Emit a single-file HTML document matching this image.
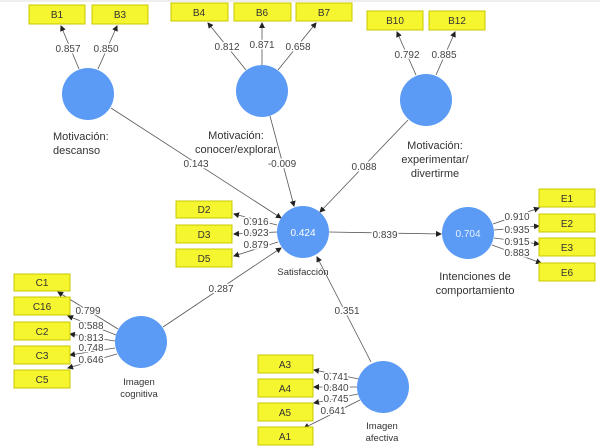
<!DOCTYPE html>
<html><head><meta charset="utf-8"><style>
html,body{margin:0;padding:0;background:#fff;width:600px;height:448px;overflow:hidden}
svg{display:block;font-family:"Liberation Sans",sans-serif}
.b{fill:#f5f530;stroke:#c8c800;stroke-width:1}
.bt{font-size:10px;fill:#333;text-anchor:middle}
.c{fill:#5b9bf5}
.l{stroke:#555;stroke-width:0.8;fill:none}
.n{font-size:10px;fill:#444;text-anchor:middle;paint-order:stroke;stroke:#fff;stroke-width:3px;stroke-linejoin:round}
.lab{font-size:11px;fill:#333;text-anchor:middle}
.sm{font-size:9.5px;fill:#333;text-anchor:middle}
</style></head><body>
<svg width="600" height="448" viewBox="0 0 600 448">
<defs><marker id="a" markerWidth="6" markerHeight="6" refX="5" refY="3" orient="auto" markerUnits="userSpaceOnUse"><path d="M0,0 L6,3 L0,6z" fill="#222"/></marker></defs>
<rect x="0" y="0" width="600" height="2" fill="#eee"/>
<g class="l">
<line x1="79" y1="69" x2="61" y2="26" marker-end="url(#a)"/>
<line x1="98" y1="69" x2="117" y2="26" marker-end="url(#a)"/>
<line x1="246" y1="70" x2="208" y2="23" marker-end="url(#a)"/>
<line x1="262" y1="65" x2="262" y2="23" marker-end="url(#a)"/>
<line x1="278" y1="70" x2="316" y2="23" marker-end="url(#a)"/>
<line x1="416" y1="75" x2="397" y2="32" marker-end="url(#a)"/>
<line x1="436" y1="75" x2="455" y2="32" marker-end="url(#a)"/>
<line x1="111" y1="108" x2="281" y2="218" marker-end="url(#a)"/>
<line x1="270" y1="116" x2="294" y2="206" marker-end="url(#a)"/>
<line x1="408" y1="120" x2="320" y2="212" marker-end="url(#a)"/>
<line x1="163" y1="327" x2="281" y2="248" marker-end="url(#a)"/>
<line x1="329" y1="232" x2="441" y2="234" marker-end="url(#a)"/>
<line x1="371" y1="362" x2="317" y2="257" marker-end="url(#a)"/>
<line x1="277" y1="225" x2="234" y2="214" marker-end="url(#a)"/>
<line x1="277" y1="232" x2="234" y2="234" marker-end="url(#a)"/>
<line x1="278" y1="242" x2="234" y2="256" marker-end="url(#a)"/>
<line x1="118" y1="329" x2="58" y2="292" marker-end="url(#a)"/>
<line x1="116" y1="335" x2="68" y2="316" marker-end="url(#a)"/>
<line x1="115" y1="341" x2="70" y2="334" marker-end="url(#a)"/>
<line x1="115" y1="348" x2="70" y2="355" marker-end="url(#a)"/>
<line x1="117" y1="354" x2="68" y2="368" marker-end="url(#a)"/>
<line x1="359" y1="379" x2="314" y2="370" marker-end="url(#a)"/>
<line x1="357" y1="387" x2="314" y2="387" marker-end="url(#a)"/>
<line x1="358" y1="394" x2="314" y2="403" marker-end="url(#a)"/>
<line x1="360" y1="400" x2="304" y2="428" marker-end="url(#a)"/>
<line x1="493" y1="224" x2="539" y2="208" marker-end="url(#a)"/>
<line x1="494" y1="230" x2="539" y2="226" marker-end="url(#a)"/>
<line x1="494" y1="238" x2="539" y2="244" marker-end="url(#a)"/>
<line x1="492" y1="245" x2="541" y2="263" marker-end="url(#a)"/>
</g>
<g>
<rect class="b" x="29" y="5" width="56" height="19"/><text class="bt" x="57" y="18">B1</text>
<rect class="b" x="92" y="5" width="56" height="19"/><text class="bt" x="120" y="18">B3</text>
<rect class="b" x="171" y="3" width="57" height="18"/><text class="bt" x="199" y="16">B4</text>
<rect class="b" x="234" y="3" width="57" height="18"/><text class="bt" x="262" y="16">B6</text>
<rect class="b" x="296" y="3" width="56" height="18"/><text class="bt" x="324" y="16">B7</text>
<rect class="b" x="367" y="11" width="56" height="19"/><text class="bt" x="395" y="24">B10</text>
<rect class="b" x="429" y="11" width="56" height="19"/><text class="bt" x="457" y="24">B12</text>
<rect class="b" x="176" y="201" width="56" height="17"/><text class="bt" x="204" y="213">D2</text>
<rect class="b" x="176" y="225" width="56" height="18"/><text class="bt" x="204" y="238">D3</text>
<rect class="b" x="176" y="249" width="56" height="18"/><text class="bt" x="204" y="262">D5</text>
<rect class="b" x="14" y="274" width="56" height="17"/><text class="bt" x="42" y="286">C1</text>
<rect class="b" x="14" y="297" width="56" height="18"/><text class="bt" x="42" y="310">C16</text>
<rect class="b" x="14" y="322" width="56" height="18"/><text class="bt" x="42" y="335">C2</text>
<rect class="b" x="14" y="346" width="56" height="18"/><text class="bt" x="42" y="359">C3</text>
<rect class="b" x="14" y="370" width="56" height="18"/><text class="bt" x="42" y="383">C5</text>
<rect class="b" x="258" y="355" width="55" height="18"/><text class="bt" x="285" y="368">A3</text>
<rect class="b" x="258" y="379" width="55" height="18"/><text class="bt" x="285" y="392">A4</text>
<rect class="b" x="258" y="403" width="55" height="18"/><text class="bt" x="285" y="416">A5</text>
<rect class="b" x="258" y="427" width="55" height="18"/><text class="bt" x="285" y="440">A1</text>
<rect class="b" x="539" y="189" width="56" height="18"/><text class="bt" x="567" y="202">E1</text>
<rect class="b" x="539" y="214" width="56" height="18"/><text class="bt" x="567" y="227">E2</text>
<rect class="b" x="539" y="238" width="56" height="18"/><text class="bt" x="567" y="251">E3</text>
<rect class="b" x="539" y="263" width="56" height="18"/><text class="bt" x="567" y="276">E6</text>
</g>
<circle class="c" cx="88" cy="94" r="26"/>
<circle class="c" cx="262" cy="91" r="26"/>
<circle class="c" cx="426" cy="100" r="26"/>
<circle class="c" cx="303" cy="232" r="26"/>
<circle class="c" cx="468" cy="233" r="26"/>
<circle class="c" cx="141" cy="342" r="26"/>
<circle class="c" cx="383" cy="387" r="26"/>
<text x="303" y="236" font-size="10" fill="#fff" text-anchor="middle">0.424</text>
<text x="468" y="237" font-size="10" fill="#e8f0ff" text-anchor="middle">0.704</text>
<g class="n">
<text x="68" y="52">0.857</text><text x="106" y="52">0.850</text>
<text x="227" y="50">0.812</text><text x="262" y="48">0.871</text><text x="298" y="50">0.658</text>
<text x="407" y="58">0.792</text><text x="444" y="58">0.885</text>
<text x="196" y="167">0.143</text><text x="282" y="167">-0.009</text><text x="364" y="170">0.088</text>
<text x="221" y="292">0.287</text><text x="385" y="238">0.839</text><text x="347" y="314">0.351</text>
<text x="256" y="225">0.916</text><text x="256" y="236">0.923</text><text x="256" y="248">0.879</text>
<text x="88" y="314">0.799</text><text x="91" y="329">0.588</text><text x="91" y="341">0.813</text><text x="91" y="351">0.748</text><text x="91" y="363">0.646</text>
<text x="336" y="380">0.741</text><text x="336" y="391">0.840</text><text x="336" y="402">0.745</text><text x="333" y="414">0.641</text>
<text x="517" y="220">0.910</text><text x="517" y="233">0.935</text><text x="517" y="245">0.915</text><text x="517" y="256">0.883</text>
</g>
<g class="lab">
<text x="53" y="140" text-anchor="start">Motivación:</text><text x="53" y="154" text-anchor="start">descanso</text>
<text x="236" y="139">Motivación:</text><text x="236" y="153">conocer/explorar</text>
<text x="435" y="149">Motivación:</text><text x="435" y="163">experimentar/</text><text x="435" y="177">divertirme</text>
<text x="475" y="280">Intenciones de</text><text x="475" y="294">comportamiento</text>
</g>
<g class="sm">
<text x="303" y="275">Satisfacción</text>
<text x="139" y="385">Imagen</text><text x="139" y="397">cognitiva</text>
<text x="382" y="429">Imagen</text><text x="382" y="441">afectiva</text>
</g>
</svg>
</body></html>
